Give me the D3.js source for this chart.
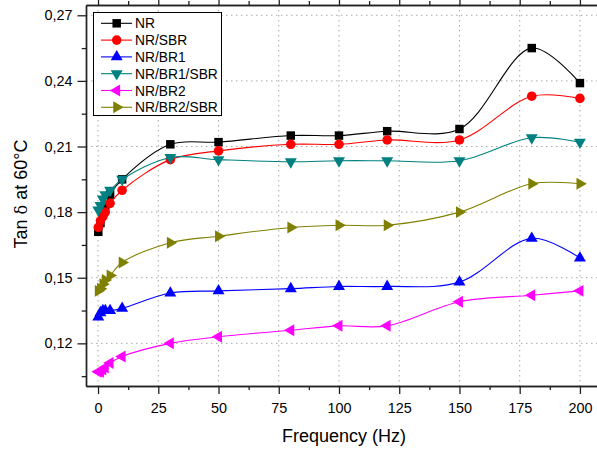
<!DOCTYPE html>
<html>
<head>
<meta charset="utf-8">
<script src="https://cdn.jsdelivr.net/npm/d3@7"></script>
<style>
  body { margin: 0; background: #fff; }
  svg { display: block; font-family: "Liberation Sans", Arial, sans-serif; }
</style>
</head>
<body>
<svg id="chart" width="597" height="449"></svg>
<script>
// frequencies (Hz) and tan delta values
var freq = [0.1, 1, 2, 3, 5, 10, 30, 50, 80, 100, 120, 150, 180, 200];
var nr = [0.171, 0.175, 0.179, 0.183, 0.188, 0.195, 0.211, 0.212, 0.215, 0.215, 0.217, 0.218, 0.255, 0.239];
var nrSbr = [0.173, 0.176, 0.178, 0.180, 0.184, 0.190, 0.204, 0.208, 0.211, 0.211, 0.213, 0.213, 0.233, 0.232];
var nrBr1 = [0.132, 0.134, 0.135, 0.135, 0.135, 0.136, 0.143, 0.144, 0.145, 0.146, 0.146, 0.148, 0.168, 0.159];
var nrBr1Sbr = [0.181, 0.183, 0.186, 0.188, 0.190, 0.195, 0.205, 0.204, 0.203, 0.2035, 0.2035, 0.2035, 0.214, 0.212];
var nrBr2 = [0.107, 0.107, 0.108, 0.109, 0.111, 0.114, 0.120, 0.123, 0.126, 0.128, 0.128, 0.139, 0.142, 0.144];
var nrBr2Sbr = [0.144, 0.145, 0.147, 0.149, 0.151, 0.157, 0.166, 0.169, 0.173, 0.174, 0.174, 0.180, 0.193, 0.193];

var seriesNames = ['NR', 'NR/SBR', 'NR/BR1', 'NR/BR1/SBR', 'NR/BR2', 'NR/BR2/SBR'];
var seriesValues = [nr, nrSbr, nrBr1, nrBr1Sbr, nrBr2, nrBr2Sbr];

var xMajor = [0, 25, 50, 75, 100, 125, 150, 175, 200];
var xMinor = [12.5, 37.5, 62.5, 87.5, 112.5, 137.5, 162.5, 187.5, 212.5];
var yMajor = [0.12, 0.15, 0.18, 0.21, 0.24, 0.27];
var yMinor = [0.105, 0.135, 0.165, 0.195, 0.225, 0.255];

var colors = ['#000000', '#ff0000', '#0000ff', '#008080', '#ff00ff', '#808000'];
var symbols = [
    { type: d3.symbolSquare, size: 72, rot: 0 },
    { type: d3.symbolCircle, size: 72, rot: 0 },
    { type: d3.symbolTriangle, size: 62, rot: 0 },
    { type: d3.symbolTriangle, size: 62, rot: 180 },
    { type: d3.symbolTriangle, size: 62, rot: -90 },
    { type: d3.symbolTriangle, size: 62, rot: 90 }
];

var svg = d3.select('#chart');
var plotL = 86, plotR = 598, plotT = 5, plotB = 386;

var x = d3.scaleLinear().domain([-5, 207.5]).range([plotL, plotR]);
var y = d3.scaleLinear().domain([0.1005, 0.2747]).range([plotB, plotT]);

var comma = d3.formatLocale({ decimal: ',', thousands: '.', grouping: [3], currency: ['', ''] });
var yFmt = comma.format('.2f');

// dotted grid at the major ticks
svg.append('g').selectAll('line').data(xMajor).enter().append('line')
    .attr('x1', function(d) { return x(d) }).attr('x2', function(d) { return x(d) })
    .attr('y1', plotT).attr('y2', plotB)
    .attr('stroke', '#a8a8a8').attr('stroke-width', 1).attr('stroke-dasharray', '1.5,3.5');
svg.append('g').selectAll('line').data(yMajor).enter().append('line')
    .attr('y1', function(d) { return y(d) }).attr('y2', function(d) { return y(d) })
    .attr('x1', plotL).attr('x2', plotR)
    .attr('stroke', '#a8a8a8').attr('stroke-width', 1).attr('stroke-dasharray', '1.5,3.5');

// axes
function styleAxis(g) {
    g.selectAll('.domain').attr('stroke', '#222').attr('stroke-width', 1.4);
    g.selectAll('.tick line').attr('stroke', '#222').attr('stroke-width', 1.3);
    g.selectAll('.tick text').attr('fill', '#000').attr('font-size', '14.4px')
        .attr('font-family', '"Liberation Sans", Arial, sans-serif');
}

svg.append('g').attr('transform', 'translate(0,' + plotB + ')')
    .call(d3.axisBottom(x).tickValues(xMajor).tickSize(8).tickPadding(8.5).tickSizeOuter(0))
    .call(styleAxis);
svg.append('g').attr('transform', 'translate(0,' + plotB + ')')
    .call(d3.axisBottom(x).tickValues(xMinor).tickSize(4).tickFormat('').tickSizeOuter(0))
    .call(styleAxis);
svg.append('g').attr('transform', 'translate(0,' + plotT + ')')
    .call(d3.axisTop(x).tickValues(xMajor).tickSize(8).tickFormat('').tickSizeOuter(0))
    .call(styleAxis);
svg.append('g').attr('transform', 'translate(0,' + plotT + ')')
    .call(d3.axisTop(x).tickValues(xMinor).tickSize(4).tickFormat('').tickSizeOuter(0))
    .call(styleAxis);

svg.append('g').attr('transform', 'translate(' + plotL + ',0)')
    .call(d3.axisLeft(y).tickValues(yMajor).tickSize(8.5).tickPadding(5).tickFormat(yFmt).tickSizeOuter(0))
    .call(styleAxis);
svg.append('g').attr('transform', 'translate(' + plotL + ',0)')
    .call(d3.axisLeft(y).tickValues(yMinor).tickSize(4.3).tickFormat('').tickSizeOuter(0))
    .call(styleAxis);

// series: spline line plus markers
var line = d3.line().curve(d3.curveCatmullRom.alpha(0.5));

for (var s = 0; s < seriesValues.length; s++) {
    var pts = freq.map(function(f, i) { return [x(f), y(seriesValues[s][i])] });
    var g = svg.append('g');
    g.append('path')
        .attr('d', line(pts))
        .attr('fill', 'none')
        .attr('stroke', colors[s])
        .attr('stroke-width', 1.1);
    var sym = symbols[s];
    g.selectAll('path.mark').data(pts).enter().append('path')
        .attr('class', 'mark')
        .attr('d', d3.symbol().type(sym.type).size(sym.size))
        .attr('transform', function(d) { return 'translate(' + d[0] + ',' + d[1] + ') rotate(' + sym.rot + ')' })
        .attr('fill', colors[s]);
}

// legend
var legend = svg.append('g');
legend.append('rect')
    .attr('x', 93.5).attr('y', 12.5).attr('width', 128).attr('height', 103)
    .attr('fill', '#fff').attr('stroke', '#000').attr('stroke-width', 1);
var rows = legend.selectAll('g.row').data(seriesNames).enter().append('g')
    .attr('transform', function(d, i) { return 'translate(0,' + (23.3 + i * 16.8) + ')' });
rows.append('line')
    .attr('x1', 101).attr('x2', 132).attr('y1', 0).attr('y2', 0)
    .attr('stroke', function(d, i) { return colors[i] }).attr('stroke-width', 1.1);
rows.append('path')
    .attr('d', function(d, i) { return d3.symbol().type(symbols[i].type).size(symbols[i].size)() })
    .attr('transform', function(d, i) { return 'translate(116.7,0) rotate(' + symbols[i].rot + ')' })
    .attr('fill', function(d, i) { return colors[i] });
rows.append('text')
    .attr('x', 135).attr('y', 5)
    .attr('font-size', '13.8px')
    .attr('fill', '#000')
    .text(function(d) { return d });

// axis titles
svg.append('text')
    .attr('x', 344).attr('y', 441.5)
    .attr('text-anchor', 'middle')
    .attr('font-size', '18px')
    .text('Frequency (Hz)');

var yt = svg.append('text')
    .attr('transform', 'translate(26.5,194) rotate(-90)')
    .attr('text-anchor', 'middle')
    .attr('font-size', '18px');
yt.append('tspan').text('Tan ');
yt.append('tspan').attr('font-family', '"DejaVu Serif", serif').attr('font-size', '16px').text('δ');
yt.append('tspan').text(' at 60°C');
</script>
</body>
</html>
